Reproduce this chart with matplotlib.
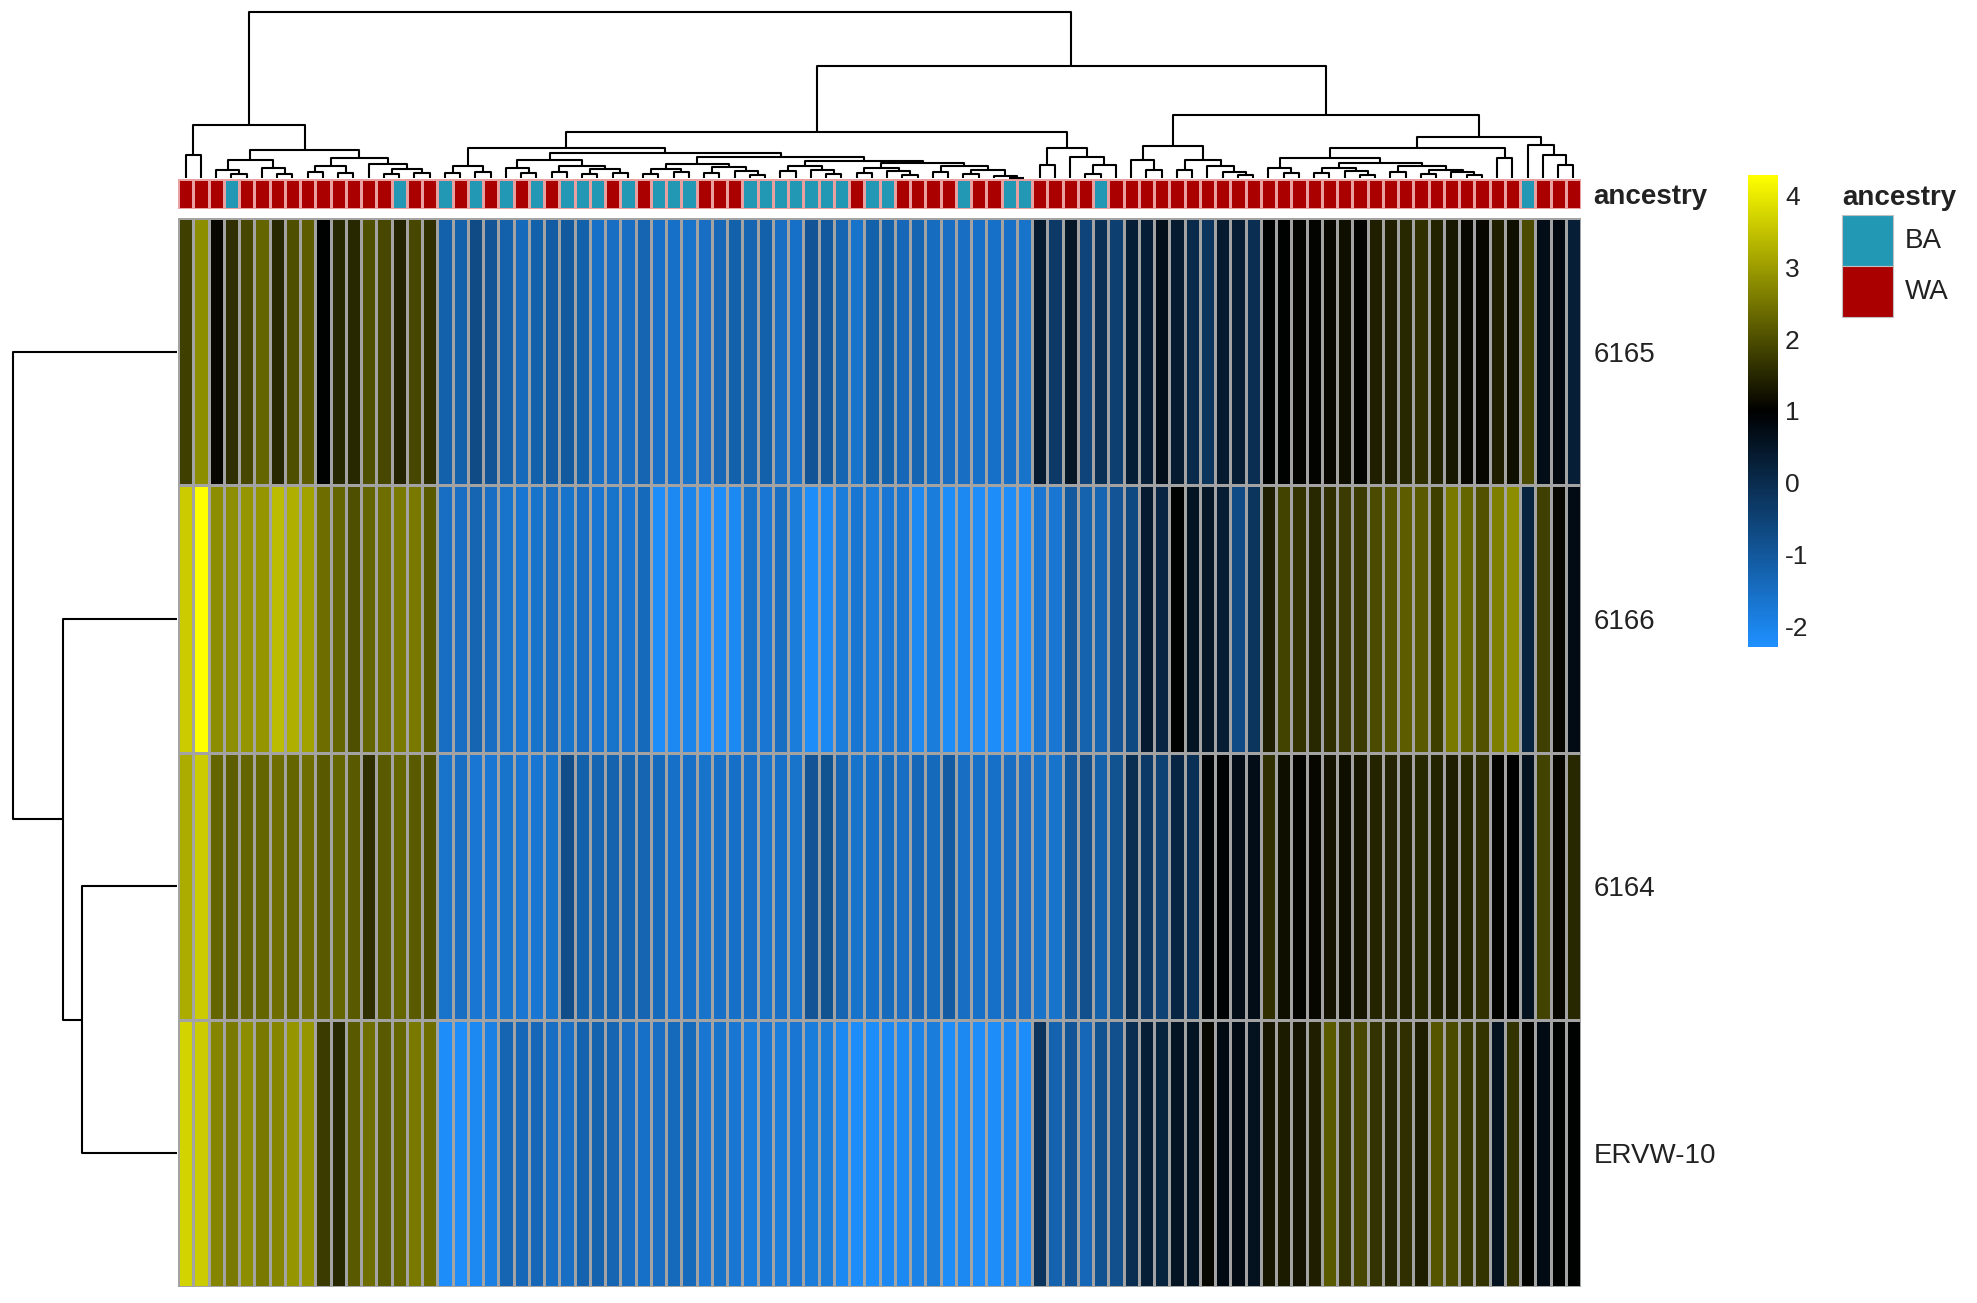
import numpy as np
import matplotlib
matplotlib.use('Agg')
import matplotlib.pyplot as plt
from matplotlib.colors import LinearSegmentedColormap, ListedColormap, Normalize
from matplotlib.cm import ScalarMappable
from matplotlib.patches import Rectangle

plt.rcParams['font.family'] = ['Liberation Sans', 'DejaVu Sans']
plt.rcParams['axes.unicode_minus'] = False

# ---------------- data ----------------
row_labels = ['6165', '6166', '6164', 'ERVW-10']

v_6165 = [1.8, 2.8, 1.1, 1.6, 1.9, 2.3, 1.5, 2.0, 2.2, 1.0, 1.5, 1.5, 2.0, 1.9, 1.45, 1.9, 1.6,
          -1.2, -1.2, -0.7, -0.9, -1.2, -1.4, -1.2, -1.1, -1.0, -1.2, -1.55, -1.5, -1.5, -1.3,
          -1.55, -1.55, -1.6, -1.5, -1.35, -1.2, -1.3, -1.2, -1.5, -1.55, -0.9, -1.0, -1.3, -1.6,
          -1.2, -1.2, -1.35, -1.3, -1.45, -1.5, -1.5, -1.55, -1.55, -1.55, -1.6,
          0.4, -0.3, 0.5, -0.55, -0.1, -0.45, 0.3, 0.3, 0.65, 0.4, 0.05, -0.2, 0.4, 0.35, -0.05,
          1.0, 1.0, 1.05, 1.05, 1.1, 1.2, 1.05, 1.4, 1.4, 1.5, 1.6, 1.45, 1.3, 1.1, 1.1, 1.4, 1.2,
          1.95, 0.7, 0.8, 0.3]
v_6166 = [3.6, 4.28, 2.8, 2.8, 2.9, 2.9, 3.4, 3.25, 3.05, 2.4, 2.3, 2.0, 2.3, 2.4, 2.55, 2.55, 2.15,
          -1.5, -1.5, -1.3, -1.5, -1.6, -1.7, -1.6, -1.5, -1.6, -1.5, -1.7, -1.6, -1.7, -1.4,
          -2.2, -2.1, -2.0, -2.2, -2.2, -2.1, -1.6, -1.7, -1.5, -1.8, -2.2, -2.1, -1.8, -1.7,
          -1.8, -1.7, -1.7, -2.1, -1.8, -2.2, -2.1, -2.2, -2.2, -2.2, -2.2,
          -1.7, -1.7, -1.0, -1.25, -1.3, -0.9, -0.65, 0.4, 0.15, 1.0, 0.55, 0.5, 0.35, -0.7, -0.2,
          1.4, 1.85, 1.65, 1.5, 1.6, 1.75, 1.75, 1.95, 2.1, 2.2, 2.15, 1.8, 2.55, 2.3, 2.05, 2.6, 2.8,
          0.2, 1.8, 1.1, 0.75]
v_6164 = [3.2, 3.6, 2.3, 2.2, 2.3, 2.3, 2.4, 2.3, 2.4, 2.15, 2.3, 2.15, 1.6, 2.15, 2.3, 2.15, 2.0,
          -1.6, -1.5, -1.7, -1.7, -1.6, -1.7, -1.7, -1.6, -0.75, -1.2, -1.3, -1.25, -1.3, -1.3,
          -1.4, -1.55, -1.55, -1.6, -1.55, -1.55, -1.55, -1.6, -1.55, -1.6, -0.9, -0.85, -1.3, -1.6,
          -1.55, -1.4, -1.5, -1.35, -1.4, -1.1, -1.5, -1.55, -1.55, -1.5, -1.5,
          -1.6, -1.6, -1.0, -0.8, -1.2, -0.85, -0.05, -0.3, -0.5, 0.15, -0.1, 0.9, 0.95, 0.7, 0.7,
          1.6, 1.2, 1.05, 1.1, 1.25, 1.2, 1.3, 1.45, 1.45, 1.45, 1.5, 1.45, 1.4, 1.5, 1.6, 1.05, 1.0,
          0.6, 1.85, 1.1, 1.5]
v_ervw10 = [3.7, 3.6, 2.7, 2.55, 2.8, 2.55, 2.7, 2.9, 2.9, 1.75, 1.5, 2.15, 2.4, 2.15, 2.3, 2.55, 2.4,
            -2.2, -2.2, -2.1, -1.9, -1.3, -1.35, -1.35, -1.5, -1.5, -1.25, -1.25, -1.3, -1.5, -1.55,
            -1.5, -1.4, -1.4, -1.7, -1.6, -1.7, -1.8, -1.7, -1.8, -1.7, -1.8, -1.8, -2.1, -2.2,
            -2.2, -2.1, -2.1, -1.95, -1.8, -2.2, -2.1, -2.2, -2.2, -2.1, -2.2,
            -0.2, -1.25, -0.9, -1.35, -0.85, -0.8, -0.05, 0.3, 0.2, 0.55, 0.55, 1.1, 0.75, 0.75, 0.6,
            1.3, 1.35, 1.25, 1.4, 2.15, 1.65, 1.9, 1.65, 1.5, 1.6, 1.4, 2.1, 1.95, 1.7, 1.65, 0.6, 1.65,
            1.05, 0.75, 1.0, 1.0]

ancestry = (['WA'] * 3 + ['BA'] + ['WA'] * 10 + ['BA'] + ['WA'] * 2 + ['BA', 'WA', 'BA', 'WA', 'BA', 'WA', 'BA', 'WA']
            + ['BA'] * 3 + ['WA', 'BA', 'WA'] + ['BA'] * 3 + ['WA'] * 3 + ['BA'] * 7 + ['WA'] + ['BA'] * 2
            + ['WA'] * 4 + ['BA'] + ['WA'] * 2 + ['BA'] * 2 + ['WA'] * 4 + ['BA'] + ['WA'] * 27 + ['BA'] + ['WA'] * 3)
ancestry_levels = ['BA', 'WA']
ancestry_colors = ['#2398B4', '#AA0000']

# column dendrogram: [height, left, right], leaves = 1-based column numbers
A2L = [18, [8, 3, [4, 4, 5]], [10, 6, [4, 7, 8]]]
A2R = [20, [12, [6, 9, 10], [5, 11, 12]], [14, 13, [9, [4, 14, 15], [5, 16, 17]]]]
A = [53, [23, 1, 2], [28, A2L, A2R]]
B1aL = [12, [5, 18, 19], [6, 20, 21]]
R_L = [18, [10, 22, [5, 23, 24]], [12, [6, 25, 26], [9, [4, 27, 28], [5, 29, 30]]]]
R1 = [14, [9, [4, 31, 32], [6, 33, 34]], [11, [5, 35, 36], [7, 37, [3, 38, 39]]]]
R2 = [17, [12, [7, 40, 41], [8, 42, [4, 43, 44]]],
      [15, [10, [5, 45, 46], [7, 47, [3, 48, 49]]], [12, [6, 50, 51], [8, [4, 52, 53], [2, 54, [0.5, 55, 56]]]]]]
B1a = [30, B1aL, [25, R_L, [21, R1, R2]]]
B1b = [30, [13, 57, 58], [21, 59, [13, [4, 60, 61], 62]]]
B2a = [32, [18, 63, [8, 64, 65]], [18, [8, 66, 67], [12, 68, [6, 69, [3, 70, 71]]]]]
B2bL = [30, [20, [10, 72, [5, 73, 74]],
             [15, [10, [5, 75, 76], [7, 77, [3, 78, 79]]], [12, [6, 80, 81], [8, [4, 82, 83], [6, 84, [3, 85, 86]]]]]],
        [20, 87, 88]]
B2bR = [33, 89, [23, 90, [13, 91, 92]]]
col_tree = [166, A, [112, [46, B1a, B1b], [63, B2a, [41, B2bL, B2bR]]]]
col_tree_top = 166

# row dendrogram, leaves = 1-based row numbers
row_tree = [164, 1, [114, 2, [95, 3, 4]]]
row_tree_top = 165

vmin, vmax = -2.28, 4.28
cbar_ticks = [-2, -1, 0, 1, 2, 3, 4]

# ---------------- figure ----------------
W, H = 1977, 1303
fig = plt.figure(figsize=(W / 100, H / 100), dpi=100)


def add_ax(x0, y0, x1, y1):
    return fig.add_axes([x0 / W, 1 - y1 / H, (x1 - x0) / W, (y1 - y0) / H])


def dendro(node):
    if not isinstance(node, list):
        return node - 0.5, 0.0, []
    h, l, r = node
    pl, hl, sl = dendro(l)
    pr, hr, sr = dendro(r)
    return (pl + pr) / 2, h, sl + sr + [([pl, pl, pr, pr], [hl, h, h, hr])]


cmap = LinearSegmentedColormap.from_list('bky', ['#1E90FF', '#000000', '#FFFF00'])
norm = Normalize(vmin=vmin, vmax=vmax)
data = np.array([v_6165, v_6166, v_6164, v_ervw10])
ncol = data.shape[1]

# heatmap
ax = add_ax(178, 218, 1581, 1287)
ax.pcolormesh(data, cmap=cmap, norm=norm, edgecolors='#A3A3A3', linewidth=1.0)
ax.set_xlim(0, ncol)
ax.set_ylim(len(row_labels), 0)
for s in ax.spines.values():
    s.set_visible(False)
ax.set_xticks([])
ax.yaxis.tick_right()
ax.set_yticks(np.arange(len(row_labels)) + 0.5)
ax.set_yticklabels(row_labels, fontsize=20, color='#222222')
ax.tick_params(axis='y', length=0, pad=9)

# annotation bar
axa = add_ax(178, 179, 1581, 209)
codes = np.array([[ancestry_levels.index(a) for a in ancestry]])
axa.pcolormesh(codes, cmap=ListedColormap(ancestry_colors), vmin=-0.5, vmax=1.5,
               edgecolors='#E8A0A0', linewidth=0.8)
axa.set_xlim(0, ncol)
axa.set_ylim(1, 0)
for s in axa.spines.values():
    s.set_visible(False)
axa.set_xticks([])
axa.yaxis.tick_right()
axa.set_yticks([0.5])
axa.set_yticklabels(['ancestry'], fontsize=20, fontweight='bold', color='#222222')
axa.tick_params(axis='y', length=0, pad=9)

# column dendrogram
axd = add_ax(178, 12, 1581, 178)
_, _, segs = dendro(col_tree)
for xs, ys in segs:
    axd.plot(xs, ys, color='black', lw=1.5, clip_on=False, solid_capstyle='butt')
axd.set_xlim(0, ncol)
axd.set_ylim(0, col_tree_top)
axd.axis('off')

# row dendrogram
axr = add_ax(12, 218, 177, 1287)
_, _, segs = dendro(row_tree)
for ys, xs in segs:
    axr.plot(xs, ys, color='black', lw=1.5, clip_on=False, solid_capstyle='butt')
axr.set_xlim(row_tree_top, 0)
axr.set_ylim(len(row_labels), 0)
axr.axis('off')

# colorbar
cax = add_ax(1748, 175, 1778, 647)
cb = fig.colorbar(ScalarMappable(norm=norm, cmap=cmap), cax=cax, ticks=cbar_ticks)
cb.outline.set_visible(False)
cax.tick_params(length=0, labelsize=19, pad=5, colors='#222222')

# legend
axl = add_ax(1835, 175, 1977, 330)
axl.set_xlim(1835, 1977)
axl.set_ylim(330, 175)
axl.axis('off')
axl.text(1842, 198, 'ancestry', fontsize=20, fontweight='bold', va='center', ha='left', color='#222222')
for i, (lev, col) in enumerate(zip(ancestry_levels, ancestry_colors)):
    y0 = 215 + i * 51
    axl.add_patch(Rectangle((1842, y0), 51, 51, facecolor=col, edgecolor='#C0C0C0', lw=0.8))
    axl.text(1905, y0 + 26, lev, fontsize=20, va='center', ha='left', color='#222222')

fig.savefig('out.png', dpi=100, facecolor='white')
